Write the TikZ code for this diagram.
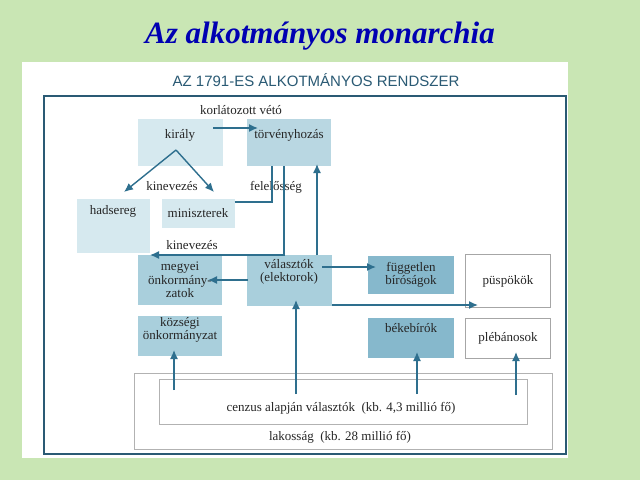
\documentclass[tikz,border=0pt]{standalone}
\usepackage{fontspec}
\setmainfont{Liberation Serif}
\newfontfamily\titlesans{Liberation Sans}
\begin{document}
\begin{tikzpicture}[x=1pt,y=-1pt,
  bx/.style={minimum width=#1, inner sep=1pt, align=center, font=\fontsize{13}{13.5}\selectfont, text=black!85},
  c1/.style={fill=cA},
  c2/.style={fill=cB},
  c3/.style={fill=cC},
  c4/.style={fill=cD},
  wb/.style={draw=black!35, fill=white},
  ar/.style={draw=arrc, line width=1.4pt, -{Latex[length=9pt,width=8pt]}},
  ln/.style={draw=arrc, line width=1.4pt},
  lb/.style={font=\fontsize{13}{13.5}\selectfont, text=black!85, inner sep=1pt}]
\usetikzlibrary{arrows.meta}
\definecolor{arrc}{HTML}{2E6F8E}
\definecolor{frm}{HTML}{2A5A74}
\definecolor{bg}{HTML}{C9E6B4}
\definecolor{cA}{HTML}{D6E9EF}
\definecolor{cB}{HTML}{B9D7E2}
\definecolor{cC}{HTML}{A9CFDC}
\definecolor{cD}{HTML}{86B8CC}
\useasboundingbox (0,0) rectangle (640,480);
\fill[bg] (0,0) rectangle (640,480);
\fill[white] (22,62) rectangle (568,458);
\node[font=\bfseries\itshape\fontsize{31}{34}\selectfont, text=blue!70!black] (title) at (320,36) {Az alkotmányos monarchia};
\node[font=\titlesans\fontsize{15}{16}\selectfont, text=frm] (sub) at (316,80) {AZ 1791-ES ALKOTMÁNYOS RENDSZER};
\draw[frm, line width=1.5pt] (44,96) rectangle (566,454);
% boxes
\node[bx=85pt, c1, minimum height=47pt] (kir) at (180,142) {király\\[2pt]};
\node[bx=84pt, c2, minimum height=47pt] (tor) at (289,142) {törvényhozás\\[2pt]};
\node[bx=73pt, c1, minimum height=54pt] (had) at (113,226) {hadsereg\\[18pt]};
\node[bx=73pt, c1, minimum height=29pt] (min) at (198,213) {miniszterek};
\node[bx=84pt, c3, minimum height=50pt] (meg) at (180,280) {megyei\\önkormány-\\zatok};
\node[bx=85pt, c3, minimum height=51pt] (val) at (289,280) {választók\\(elektorok)\\[6pt]};
\node[bx=86pt, c4, minimum height=38pt] (fug) at (411,275) {független\\bíróságok};
\node[bx=85pt, wb, minimum height=53pt] (pus) at (508,281) {püspökök};
\node[bx=84pt, c3, minimum height=40pt] (koz) at (180,336) {községi\\önkormányzat\\[2pt]};
\node[bx=86pt, c4, minimum height=40pt] (bek) at (411,338) {békebírók\\[6pt]};
\node[bx=85pt, wb, minimum height=40pt] (ple) at (508,338) {plébánosok};
\node[draw=black!30, minimum width=418pt, minimum height=76pt, inner sep=0pt] (lak) at (343,411) {};
\node[draw=black!30, fill=white, minimum width=368pt, minimum height=45pt, inner sep=0pt] (cen) at (343,401.5) {};
\node[lb] (cent) at (341,408) {cenzus alapján választók\ \ (kb. 4,3 millió fő)};
\node[lb] (lakt) at (340,437) {lakosság\ \ (kb. 28 millió fő)};
% connectors
\coordinate (kv1) at (176,150);
\draw[ar] (kv1) -- (124,192);
\draw[ar] (kv1) -- (214,192);
\node[lb, fill=white, inner sep=0pt] (kin1) at (172,186) {kinevezés};
\node[lb] (kor) at (241,110) {korlátozott vétó};
\draw[ar] (213,128) -- (258,128);
\node[lb] (fel) at (276,187) {felelősség};
\draw[ln] (min.east |- 0,202) -| (272,166);
\draw[ar] (284,166) -- (284,255) -- (150,255);
\node[lb] (kin2) at (192,245) {kinevezés};
\draw[ar] (317,255) -- (317,164);
\draw[ar] (248,280) -- (208,280);
\draw[ar] (322,267) -- (376,267);
\draw[ar] (332,305) -- (478,305);
\draw[ar] (174,390) -- (174,350);
\draw[ar] (296,394) -- (296,300);
\draw[ar] (417,394) -- (417,352);
\draw[ar] (516,395) -- (516,352);
\end{tikzpicture}
\end{document}
